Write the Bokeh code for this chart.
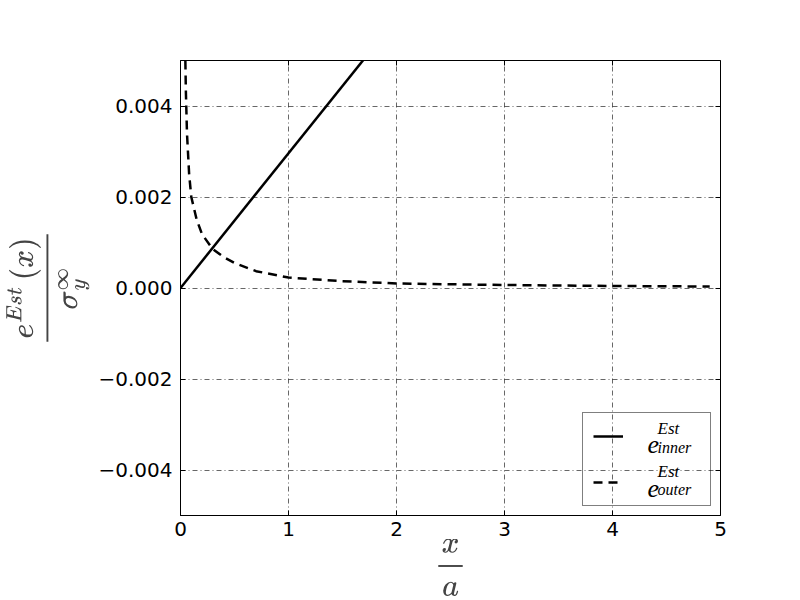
from bokeh.plotting import figure
from bokeh.models import (ColumnDataSource, FixedTicker, LinearAxis, Legend, LegendItem,
                          Range1d)
from bokeh.core.properties import value
from bokeh.embed import file_html
from bokeh.resources import INLINE

# Data
inner_x = [0.0, 5.0]
inner_y = [0.0, 0.0148]

outer_x = [0.045, 0.05, 0.06, 0.08, 0.1, 0.15, 0.2, 0.3, 0.4, 0.5, 0.7, 1.0,
           1.5, 2.0, 2.5, 3.0, 3.5, 4.0, 4.5, 4.9]
outer_y = [0.0050, 0.0043, 0.0034, 0.0025, 0.0020, 0.0015, 0.00118, 0.00085,
           0.00068, 0.00055, 0.00037, 0.00023, 0.00015, 0.00010, 0.000082,
           0.000066, 0.000055, 0.000045, 0.000038, 0.000033]

x_ticks = [0, 1, 2, 3, 4, 5]
y_ticks = [-0.004, -0.002, 0.0, 0.002, 0.004]
y_tick_labels = ["\u22120.004", "\u22120.002", "0.000", "0.002", "0.004"]

# legend text pieces: base, superscript, subscript
legend_base = ["e", "e"]
legend_sup = ["Est", "Est"]
legend_sub = ["inner", "outer"]

FONT = "DejaVu Sans"
MATH_FONT = "Liberation Serif"

p = figure(width=800, height=600, output_backend="svg", toolbar_location=None,
           x_range=Range1d(0, 5), y_range=Range1d(-0.005, 0.005),
           min_border_left=180, min_border_right=80, min_border_top=60,
           min_border_bottom=85)
p.background_fill_color = "white"
p.border_fill_color = "white"
p.outline_line_color = "black"
p.outline_line_width = 1

src_in = ColumnDataSource(dict(x=inner_x, y=inner_y))
src_out = ColumnDataSource(dict(x=outer_x, y=outer_y))
r_in = p.line("x", "y", source=src_in, line_color="black", line_width=2.5)
r_out = p.line("x", "y", source=src_out, line_color="black", line_width=2.5,
               line_dash="9 6")

for ax in (p.xaxis[0], p.yaxis[0]):
    ax.major_tick_in = 5
    ax.major_tick_out = 0
    ax.minor_tick_line_color = None
    ax.axis_line_color = "black"
    ax.major_tick_line_color = "black"
    ax.major_label_text_font = FONT
    ax.major_label_text_font_size = "20px"
    ax.major_label_text_color = "black"
    ax.axis_label_text_font_size = "25px"

p.xaxis[0].ticker = FixedTicker(ticks=x_ticks)
p.yaxis[0].ticker = FixedTicker(ticks=y_ticks)
p.yaxis[0].major_label_overrides = {t: l for t, l in zip(y_ticks, y_tick_labels)}
p.xaxis[0].axis_label = r"$$\frac{x}{a}$$"
p.yaxis[0].axis_label = r"$$\frac{e^{Est}\left(x\right)}{\sigma_y^{\infty}}$$"
p.xaxis[0].axis_label_standoff = 0
p.yaxis[0].axis_label_standoff = 6
p.xaxis[0].major_label_standoff = 6
p.yaxis[0].major_label_standoff = 8

top = LinearAxis(ticker=FixedTicker(ticks=x_ticks), major_label_text_font_size="0px",
                 major_tick_in=5, major_tick_out=0, minor_tick_line_color=None,
                 axis_line_color=None)
right = LinearAxis(ticker=FixedTicker(ticks=y_ticks), major_label_text_font_size="0px",
                   major_tick_in=5, major_tick_out=0, minor_tick_line_color=None,
                   axis_line_color=None)
p.add_layout(top, "above")
p.add_layout(right, "right")

for g in (p.xgrid[0], p.ygrid[0]):
    g.grid_line_color = "black"
    g.grid_line_width = 0.6
    g.grid_line_dash = "5 3 1 3"
p.xgrid[0].ticker = FixedTicker(ticks=x_ticks)
p.ygrid[0].ticker = FixedTicker(ticks=y_ticks)

legend = Legend(items=[
    LegendItem(label="\u2002", renderers=[r_in]),
    LegendItem(label="\u2002", renderers=[r_out]),
], location="bottom_right")
legend.border_line_color = "black"
legend.border_line_width = 1
legend.label_text_font_size = "10px"
legend.label_width = 67
legend.label_standoff = 10
legend.glyph_width = 30
legend.glyph_height = 26
legend.spacing = 20
legend.padding = 10
legend.margin = 9
legend.background_fill_alpha = 0
p.add_layout(legend)

# legend text placement (data coordinates of the text anchors)
base_x = [4.324, 4.324]
script_x = [4.417, 4.417]
base_y = [-0.003429, -0.004396]
sup_y = [-0.003077, -0.004022]
sub_y = [-0.003516, -0.004418]

for xs, ys, txt, size in ((base_x, base_y, legend_base, "26px"),
                          (script_x, sup_y, legend_sup, "17px"),
                          (script_x, sub_y, legend_sub, "16px")):
    src = ColumnDataSource(dict(x=xs, y=ys, t=txt))
    p.text("x", "y", text="t", source=src, text_font=value(MATH_FONT),
           text_font_style="italic", text_font_size=size,
           text_baseline="alphabetic", text_align="left", text_color="black")

open("out.html", "w").write(file_html(p, INLINE))
